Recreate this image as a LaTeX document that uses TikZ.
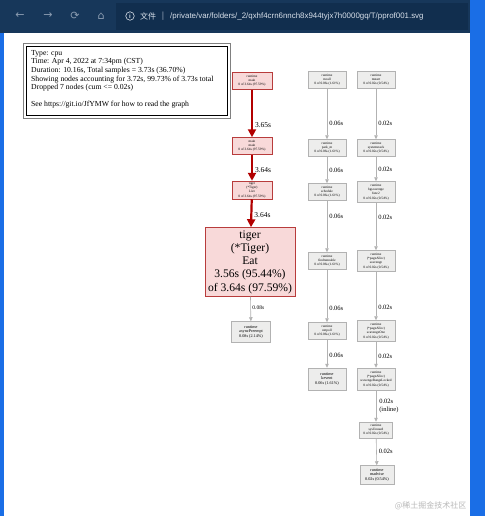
\documentclass[tikz,border=0pt]{standalone}
\usepackage{fontspec}
\setmainfont{Liberation Serif}
\newfontfamily\uisans{Liberation Sans}
\newfontfamily\cjk{Noto Sans CJK SC}
\newfontfamily\dejavu{DejaVu Sans}
\usetikzlibrary{arrows.meta}
\definecolor{barbg}{HTML}{17375A}
\definecolor{urlbg}{HTML}{112E4E}
\definecolor{edgeblue}{HTML}{1A6EE6}
\definecolor{redfill}{HTML}{F8D9D9}
\definecolor{redline}{HTML}{B83C3C}
\definecolor{redarr}{HTML}{B20000}
\definecolor{grayfill}{HTML}{EDEDEC}
\definecolor{grayline}{HTML}{B2B2B2}
\definecolor{icongray}{HTML}{8A9BB0}
\definecolor{urltext}{HTML}{D8E0EA}
\tikzset{
  tinytext/.style={font=\fontsize{3.4}{4.2}\selectfont},
  smalltext/.style={font=\fontsize{4.2}{4.9}\selectfont},
  rednode/.style={draw=redline, fill=redfill, line width=0.5pt, align=center, inner sep=0.5pt, minimum width=40, minimum height=17, tinytext},
  graynode/.style={draw=grayline, fill=grayfill, line width=0.5pt, align=center, inner sep=0.5pt, minimum width=38, minimum height=17, tinytext},
  redarrow/.style={draw=redarr, line width=2.2pt, -{Triangle[length=8pt,width=8pt]}},
  grayarrow/.style={draw=grayline, line width=0.6pt, -{Triangle[length=4pt,width=3.5pt]}},
  biglabel/.style={font=\fontsize{7.5}{8}\selectfont, anchor=west, inner sep=0pt},
  midlabel/.style={font=\fontsize{6.5}{7.5}\selectfont, anchor=west, inner sep=0pt},
  iconstyle/.style={text=icongray, font=\dejavu\fontsize{11}{12}\selectfont},
}
\begin{document}
\begin{tikzpicture}[x=1pt,y=-1pt]
\useasboundingbox (0,0) rectangle (485,516);
% browser frame
\fill[edgeblue] (0,0) rectangle (485,516);
\fill[white] (4,33) rectangle (470,516);
\fill[barbg] (0,0) rectangle (470,33);
\fill[urlbg] (116,3) rectangle (468,30);
\node[iconstyle] (back) at (20,16) {←};
\node[iconstyle] (fwd) at (48,16) {→};
\node[iconstyle] (reload) at (75,16) {⟳};
\node[iconstyle] (home) at (101,16) {⌂};
\node[circle, draw=urltext, line width=0.6pt, minimum size=8.5pt, inner sep=0pt, text=urltext, font=\uisans\bfseries\fontsize{6}{6}\selectfont] (info) at (130,16) {i};
\node[text=urltext, font=\cjk\fontsize{8}{9}\selectfont] (wenjian) at (148,16) {文件};
\node[text=icongray, font=\uisans\fontsize{9}{10}\selectfont] (sep) at (163,16) {|};
\node[text=urltext, font=\uisans\fontsize{7.9}{9}\selectfont, anchor=west, inner sep=0pt] (url) at (170,16) {/private/var/folders/\_2/qxhf4crn6nnch8x944tyjx7h0000gq/T/pprof001.svg};

% legend
\draw[gray, line width=0.6pt] (23,43) rectangle (230,118);
\draw[black, line width=0.5pt] (26,46) rectangle (227,115);
\node[anchor=north west, align=left, inner sep=0pt, font=\fontsize{7.7}{8.6}\selectfont] (legend) at (31,50) {Type: cpu\\
Time: Apr 4, 2022 at 7:34pm (CST)\\
Duration: 10.16s, Total samples = 3.73s (36.70\%)\\
Showing nodes accounting for 3.72s, 99.73\% of 3.73s total\\
Dropped 7 nodes (cum <= 0.02s)\\[8.4pt]
See https://git.io/JfYMW for how to read the graph};

% left column
\node[rednode] (rmain) at (252,81) {runtime\\main\\0 of 3.64s (97.59\%)};
\node[rednode] (mmain) at (252,146) {main\\main\\0 of 3.64s (97.59\%)};
\node[rednode, minimum height=18] (tlive) at (252,190) {tiger\\(*Tiger)\\Live\\0 of 3.64s (97.59\%)};
\node[rednode, minimum width=90, minimum height=69, font=\fontsize{11.6}{13.2}\selectfont] (eat) at (250,262) {tiger\\(*Tiger)\\Eat\\3.56s (95.44\%)\\of 3.64s (97.59\%)};
\node[graynode, minimum width=39, minimum height=21, smalltext] (async) at (251,332) {runtime\\asyncPreempt\\0.08s (2.14\%)};

\draw[redarrow] (rmain) -- (mmain) node[biglabel, pos=0.75, xshift=2pt] (l1) {3.65s};
\draw[redarrow] (mmain) -- (tlive) node[biglabel, pos=0.6, xshift=2pt] (l2) {3.64s};
\draw[redarrow] (tlive) -- (eat) node[biglabel, pos=0.55, xshift=2pt] (l3) {3.64s};
\draw[grayarrow] (eat) -- (async) node[font=\fontsize{5.5}{6}\selectfont, anchor=west, inner sep=0pt, pos=0.45, xshift=1.5pt] (l4) {0.08s};

% middle column
\node[graynode] (mcall) at (327,80) {runtime\\mcall\\0 of 0.06s (1.61\%)};
\node[graynode] (parkm) at (327,148) {runtime\\park\_m\\0 of 0.06s (1.61\%)};
\node[graynode] (sched) at (327,192) {runtime\\schedule\\0 of 0.06s (1.61\%)};
\node[graynode] (findr) at (327,261) {runtime\\findrunnable\\0 of 0.06s (1.61\%)};
\node[graynode] (netpoll) at (327,331) {runtime\\netpoll\\0 of 0.06s (1.61\%)};
\node[graynode, minimum height=22, smalltext] (kevent) at (327,379) {runtime\\kevent\\0.06s (1.61\%)};

\draw[grayarrow] (mcall) -- (parkm) node[midlabel, pos=0.68, xshift=2pt] (m1) {0.06s};
\draw[grayarrow] (parkm) -- (sched) node[midlabel, pos=0.5, xshift=2pt] (m2) {0.06s};
\draw[grayarrow] (sched) -- (findr) node[midlabel, pos=0.3, xshift=2pt] (m3) {0.06s};
\draw[grayarrow] (findr) -- (netpoll) node[midlabel, pos=0.74, xshift=2pt] (m4) {0.06s};
\draw[grayarrow] (netpoll) -- (kevent) node[midlabel, pos=0.55, xshift=2pt] (m5) {0.06s};

% right column
\node[graynode] (mstart) at (376,80) {runtime\\mstart\\0 of 0.02s (0.54\%)};
\node[graynode] (sysstack) at (376,148) {runtime\\systemstack\\0 of 0.02s (0.54\%)};
\node[graynode, minimum height=21] (bgscav) at (376,192) {runtime\\bgscavenge\\func2\\0 of 0.02s (0.54\%)};
\node[graynode, minimum height=21] (scav) at (376,261) {runtime\\(*pageAlloc)\\scavenge\\0 of 0.02s (0.54\%)};
\node[graynode, minimum height=21] (scavone) at (376,331) {runtime\\(*pageAlloc)\\scavengeOne\\0 of 0.02s (0.54\%)};
\node[graynode, minimum height=22] (scavrl) at (376,379) {runtime\\(*pageAlloc)\\scavengeRangeLocked\\0 of 0.02s (0.54\%)};
\node[graynode, minimum width=33, minimum height=16] (sysun) at (376,430) {runtime\\sysUnused\\0 of 0.02s (0.54\%)};
\node[graynode, minimum width=34, minimum height=19, smalltext] (madv) at (377,475) {runtime\\madvise\\0.02s (0.54\%)};

\draw[grayarrow] (mstart) -- (sysstack) node[midlabel, pos=0.68, xshift=2pt] (r1) {0.02s};
\draw[grayarrow] (sysstack) -- (bgscav) node[midlabel, pos=0.5, xshift=2pt] (r2) {0.02s};
\draw[grayarrow] (bgscav) -- (scav) node[midlabel, pos=0.3, xshift=2pt] (r3) {0.02s};
\draw[grayarrow] (scav) -- (scavone) node[midlabel, pos=0.74, xshift=2pt] (r4) {0.02s};
\draw[grayarrow] (scavone) -- (scavrl) node[midlabel, pos=0.55, xshift=2pt] (r5) {0.02s};
\draw[grayarrow] (scavrl) -- (sysun) node[midlabel, pos=0.5, xshift=3pt, align=left] (r6) {0.02s\\(inline)};
\draw[grayarrow] (sysun) -- (madv) node[midlabel, pos=0.5, xshift=2pt] (r7) {0.02s};

% watermark
\node[text=gray!55, font=\cjk\fontsize{8}{9}\selectfont, anchor=east] (wm) at (470,506) {@稀土掘金技术社区};
\end{tikzpicture}
\end{document}
